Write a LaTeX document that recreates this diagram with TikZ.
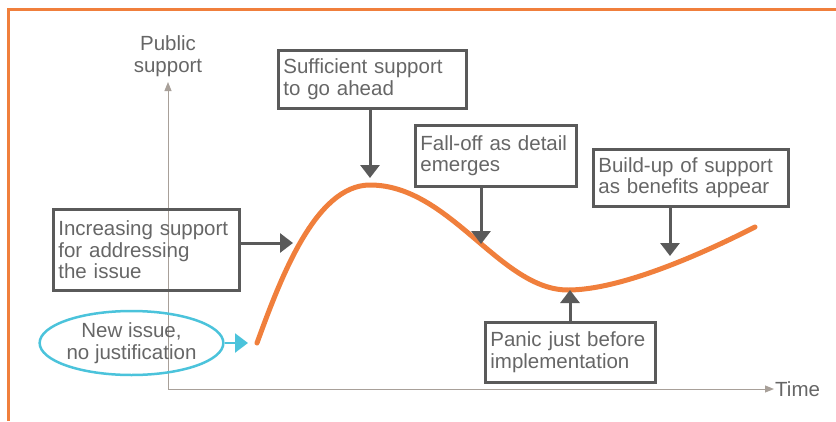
\documentclass[tikz,border=0pt]{standalone}
\usepackage{fontspec}
\setmainfont{Liberation Sans}
\usetikzlibrary{arrows.meta,shapes.geometric}
\definecolor{hypeorange}{HTML}{F07F3C}
\definecolor{hypecyan}{HTML}{4BC3DB}
\definecolor{boxgray}{HTML}{5A5A5A}
\definecolor{textgray}{HTML}{666666}
\definecolor{axisgray}{HTML}{A8A099}

\begin{document}
\begin{tikzpicture}[x=1pt,y=-1pt,
    font=\fontsize{20.5}{21.5}\selectfont, text=textgray,
    infobox/.style={draw=boxgray, line width=2.8pt, align=left, anchor=north west,
      inner xsep=5pt, inner ysep=3pt},
    pointer/.style={draw=boxgray, line width=3pt, -{Triangle[width=19pt,length=13pt]}},
    axis/.style={draw=axisgray, line width=1pt, -{Triangle[width=7pt,length=9pt]}}]
    \useasboundingbox (0,0) rectangle (836,421);
    % frame
    \draw[hypeorange, line width=3pt] (836,9) -- (8,9) -- (8,421);
    % axes
    \coordinate (origin) at (168,389);
    \coordinate (ytop) at (168,82);
    \coordinate (xend) at (774,389);
    \draw[axis] (origin) -- (ytop);
    \draw[axis] (origin) -- (xend);
    \node[align=center] (ylabel) at (168,56) {Public\\support};
    \node[anchor=west, inner sep=1pt] (xlabel) at (xend) {Time};
    % hype curve
    \draw[hypeorange, line width=5pt, line cap=round]
      (257,343) .. controls (280,280) and (315,185) .. (370,185)
      .. controls (450,185) and (500,290) .. (568,290)
      .. controls (620,290) and (700,255) .. (755,227);
    % arrow tips on the curve
    \coordinate (tippeak) at (370,178);
    \coordinate (tipfall) at (481,244);
    \coordinate (tipbuild) at (670,256);
    \coordinate (tiprise) at (293,243);
    \coordinate (tipstart) at (248,343);
    \coordinate (tipmin) at (570,290);
    % boxes
    \node[infobox, text width=178pt, minimum height=58pt] (suff) at (277,49)
      {Sufficient support\\to go ahead};
    \node[infobox, text width=151pt, minimum height=61pt] (fall) at (414,124)
      {Fall-off as detail\\emerges};
    \node[infobox, text width=185pt, minimum height=57pt] (build) at (592,148)
      {Build-up of support\\as benefits appear};
    \node[infobox, text width=176pt, minimum height=81pt] (incr) at (52,208)
      {Increasing support\\for addressing\\the issue};
    \node[infobox, text width=160pt, minimum height=60pt] (panic) at (484,321)
      {Panic just before\\implementation};
    \node[draw=hypecyan, line width=2.5pt, ellipse, align=center, minimum width=173pt,
      minimum height=64pt, inner sep=0pt] (newissue) at (131.5,343) {New issue,\\no justification};
    % pointers
    \draw[pointer] (suff.south -| tippeak) -- (tippeak);
    \draw[pointer] (fall.south -| tipfall) -- (tipfall);
    \draw[pointer] (build.south -| tipbuild) -- (tipbuild);
    \draw[pointer] (incr.east |- tiprise) -- (tiprise);
    \draw[pointer] (panic.north -| tipmin) -- (tipmin);
    \draw[pointer, draw=hypecyan, line width=2.5pt] (newissue.east) -- (tipstart);
\end{tikzpicture}
\end{document}
